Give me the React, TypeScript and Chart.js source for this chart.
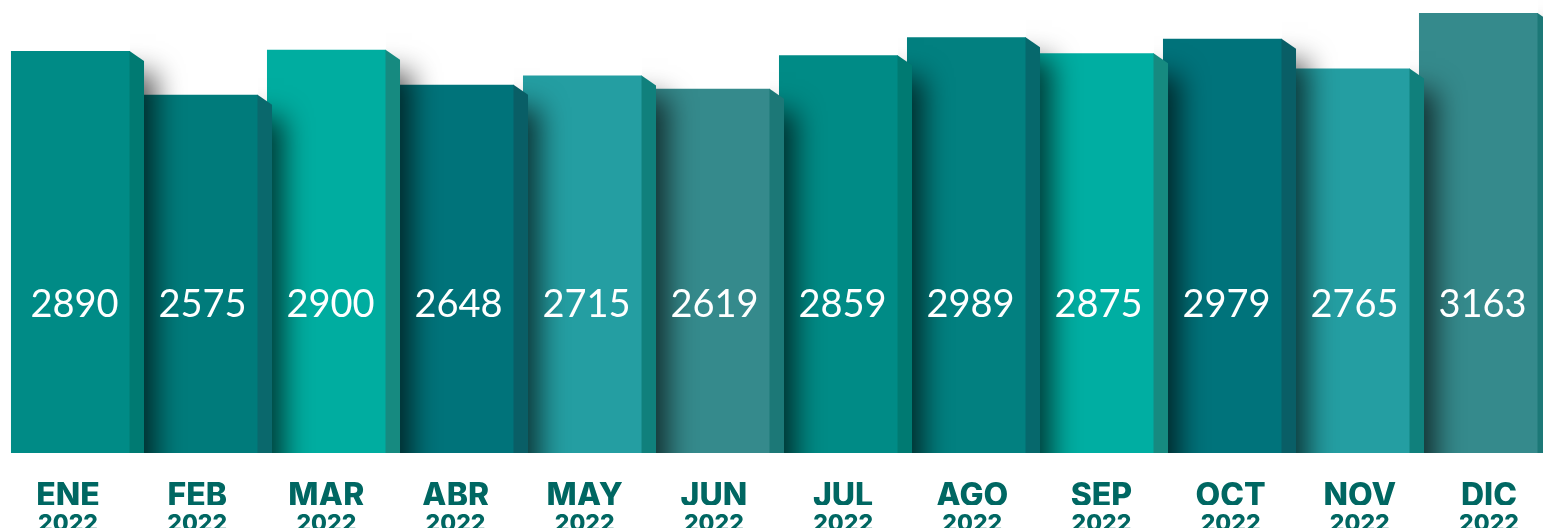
import React, { useEffect, useRef } from 'react';
import { Chart, registerables } from 'chart.js';

Chart.register(...registerables);

const months = ['ENE', 'FEB', 'MAR', 'ABR', 'MAY', 'JUN', 'JUL', 'AGO', 'SEP', 'OCT', 'NOV', 'DIC'];
const years = ['2022', '2022', '2022', '2022', '2022', '2022', '2022', '2022', '2022', '2022', '2022', '2022'];
const values = [2890, 2575, 2900, 2648, 2715, 2619, 2859, 2989, 2875, 2979, 2765, 3163];

const frontColors = [
  '#008b86', '#007b7b', '#00ada0', '#00737a', '#249ea2', '#358a8c',
  '#008b86', '#028080', '#00aea2', '#00737b', '#249ea2', '#358a8c',
];
const sideColors = [
  '#007a72', '#0a686c', '#168a80', '#095e66', '#10807c', '#1c7877',
  '#007a72', '#06686c', '#168a80', '#095e66', '#10807c', '#1c7877',
];
const labelColor = '#006762';
const labelMin = -0.4761;
const labelMax = 11.4141;

const bar3d = {
  id: 'bar3d',
  afterDatasetsDraw(chart: any) {
    const ctx = chart.ctx as CanvasRenderingContext2D;
    const bars = chart.getDatasetMeta(0).data as any[];
    const cw = chart.width;
    const sw = 14;
    const sd = 10;
    for (let i = bars.length - 1; i >= 0; i--) {
      const b = bars[i];
      const left = b.x - b.width / 2;
      const right = b.x + b.width / 2;
      const top = b.y;
      const base = b.base;
      ctx.save();
      ctx.beginPath();
      ctx.rect(right, 0, cw - right, base);
      ctx.clip();
      const far = 4000;
      ctx.shadowColor = 'rgba(0,0,0,0.66)';
      ctx.shadowBlur = 26;
      ctx.shadowOffsetX = far + 12;
      ctx.shadowOffsetY = 22;
      ctx.fillStyle = '#000';
      ctx.beginPath();
      ctx.rect(left - far, top, right + sw - left, base - top + 60);
      ctx.fill();
      ctx.restore();
      ctx.save();
      ctx.fillStyle = sideColors[i];
      ctx.beginPath();
      ctx.moveTo(right - 0.5, top);
      ctx.lineTo(right + sw, top + sd);
      ctx.lineTo(right + sw, base);
      ctx.lineTo(right - 0.5, base);
      ctx.closePath();
      ctx.fill();
      ctx.restore();
    }
    ctx.save();
    ctx.font = '400 38px Lato';
    ctx.fillStyle = '#ffffff';
    ctx.textAlign = 'center';
    ctx.textBaseline = 'alphabetic';
    const yb = chart.chartArea.bottom - 136;
    bars.forEach((b, i) => ctx.fillText(String(values[i]), b.x + 4, yb));
    ctx.restore();
  },
};

export default function App() {
  const ref = useRef<HTMLCanvasElement | null>(null);
  useEffect(() => {
    if (!ref.current) return;
    const labelAxis = (list: string[], weight: number, size: number, pad: number, h: number) => ({
      type: 'linear',
      axis: 'x',
      position: 'bottom',
      weight,
      offset: false,
      bounds: 'data',
      min: labelMin,
      max: labelMax,
      grid: { display: false, drawTicks: false, offset: false },
      border: { display: false },
      afterBuildTicks: (a: any) => {
        a.ticks = list.map((_, i) => ({ value: i }));
      },
      afterFit: (a: any) => {
        a.height = h;
        a.paddingLeft = 0;
        a.paddingRight = 0;
      },
      ticks: {
        autoSkip: false,
        maxRotation: 0,
        minRotation: 0,
        padding: pad,
        color: labelColor,
        font: { family: 'Inter', weight: '800', size },
        callback: (v: any) => list[Math.round(Number(v))] ?? '',
      },
    });
    const chart = new Chart(ref.current, {
      type: 'bar',
      data: {
        labels: months,
        datasets: [
          {
            data: values,
            backgroundColor: frontColors,
            borderWidth: 0,
            barPercentage: 0.93,
            categoryPercentage: 1,
            xAxisID: 'x',
            yAxisID: 'y',
          },
        ],
      },
      options: {
        animation: false,
        responsive: false,
        maintainAspectRatio: false,
        layout: { padding: { left: 6.5, right: 0.5, top: 0, bottom: 0 } },
        plugins: { legend: { display: false }, tooltip: { enabled: false } },
        scales: {
          x: { type: 'category', display: false, offset: true },
          y: { display: false, min: 0, max: 3257 },
          x2: labelAxis(months, 0, 32, 24, 52),
          x3: labelAxis(years, 1, 23, 5, 23),
        } as any,
      },
      plugins: [bar3d],
    });
    return () => chart.destroy();
  }, []);
  return (
    <div style={{ position: 'fixed', left: 0, top: 0, width: 1543, height: 528, background: '#ffffff' }}>
      <canvas ref={ref} width={1543} height={528} style={{ display: 'block', width: 1543, height: 528 }} />
    </div>
  );
}
